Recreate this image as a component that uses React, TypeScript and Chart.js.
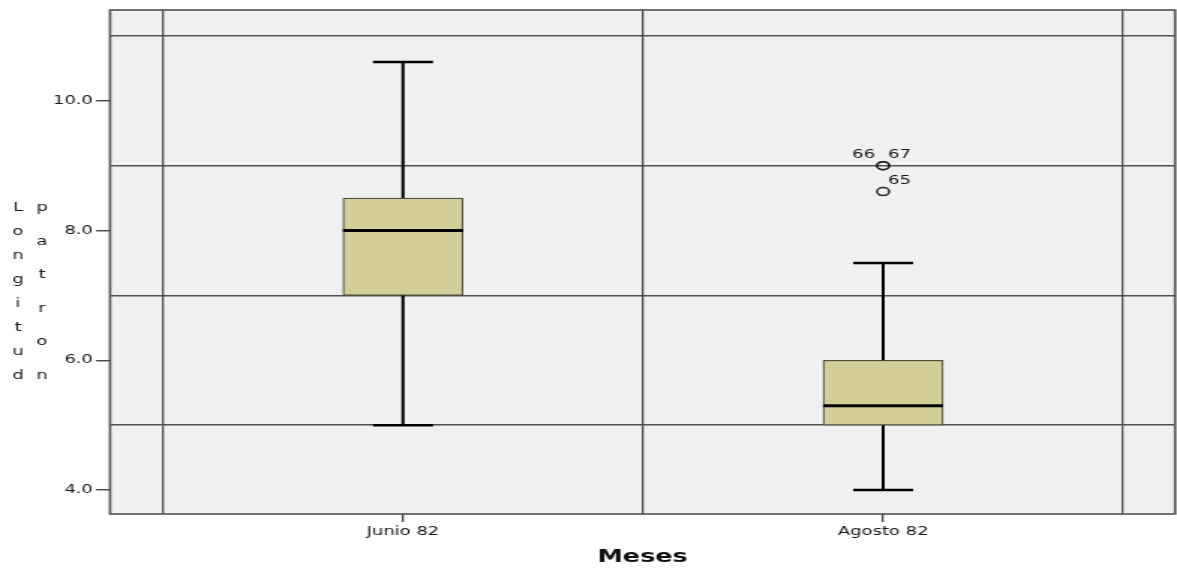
import React, { useEffect, useRef } from 'react';
import { Chart, registerables } from 'chart.js';

Chart.register(...registerables);

// ---- data ----
const categories = ['Junio 82', 'Agosto 82'];
const whiskerLow = [5.0, 4.0];
const q1 = [7.0, 5.0];
const median = [8.0, 5.3];
const q3 = [8.5, 6.0];
const whiskerHigh = [10.6, 7.5];
const outlierCategory = [1, 1, 1];
const outlierValues = [9.0, 9.0, 8.6];
const outlierIds = ['66', '67', '65'];
const yLabelTicks = [4, 6, 8, 10];
const yGridTicks = [5, 7, 9, 11];
const xTitle = 'Meses';
const yTitleWords = ['Longitud', 'patron'];

// ---- layout / style ----
const NATURAL_W = 785;
const H = 571;
const STRETCH = 1177 / NATURAL_W;
const BOX_HALF = 0.125;
const CAP_HALF = 0.0625;
const FONT = '"DejaVu Sans", "Liberation Sans", Arial, sans-serif';
const GRID = '#505050';
const TEXT = '#161616';

const boxData = categories.map((_, i) => ({ x: i + 1, y: [q1[i], q3[i]] }));
const whiskerData = categories.flatMap((_, i) => [
  { x: i + 1, y: whiskerLow[i] },
  { x: i + 1, y: q1[i] },
  { x: i + 1, y: null },
  { x: i + 1, y: q3[i] },
  { x: i + 1, y: whiskerHigh[i] },
  { x: i + 1, y: null },
]);
const capData = categories.flatMap((_, i) => [
  { x: i + 1 - CAP_HALF, y: whiskerLow[i] },
  { x: i + 1 + CAP_HALF, y: whiskerLow[i] },
  { x: i + 1, y: null },
  { x: i + 1 - CAP_HALF, y: whiskerHigh[i] },
  { x: i + 1 + CAP_HALF, y: whiskerHigh[i] },
  { x: i + 1, y: null },
]);
const medianData = categories.flatMap((_, i) => [
  { x: i + 1 - BOX_HALF, y: median[i] },
  { x: i + 1 + BOX_HALF, y: median[i] },
  { x: i + 1, y: null },
]);
const outlierData = outlierValues.map((v, i) => ({ x: outlierCategory[i] + 1, y: v }));

const xTickValues = categories.flatMap((_, i) => [i + 0.5, i + 1]).concat([categories.length + 0.5]);
const yTickValues = [...yLabelTicks, ...yGridTicks].sort((a, b) => a - b);

const spssPlugin = {
  id: 'spssStyle',
  beforeDraw(chart: any) {
    const { ctx, chartArea: a } = chart;
    ctx.save();
    ctx.fillStyle = '#F0F0F0';
    ctx.fillRect(a.left, a.top, a.right - a.left, a.bottom - a.top);
    ctx.restore();
  },
  afterDatasetsDraw(chart: any) {
    const { ctx } = chart;
    const meta = chart.getDatasetMeta(4);
    ctx.save();
    ctx.font = `12px ${FONT}`;
    ctx.fillStyle = TEXT;
    ctx.textAlign = 'center';
    ctx.textBaseline = 'middle';
    outlierIds.forEach((id, i) => {
      const el = meta.data[i];
      if (!el) return;
      const same = outlierValues
        .map((v, j) => j)
        .filter((j) => outlierValues[j] === outlierValues[i] && outlierCategory[j] === outlierCategory[i]);
      const rank = same.indexOf(i);
      const left = same.length > 1 && rank === 0;
      ctx.fillText(id, el.x + (left ? -13 : 11), el.y - 11);
    });
    ctx.restore();
  },
  afterDraw(chart: any) {
    const { ctx, chartArea: a } = chart;
    ctx.save();
    ctx.strokeStyle = GRID;
    ctx.lineWidth = 1.6;
    ctx.strokeRect(a.left, a.top, a.right - a.left, a.bottom - a.top);
    // stacked y-axis title
    ctx.font = `12px ${FONT}`;
    ctx.fillStyle = TEXT;
    ctx.textAlign = 'center';
    ctx.textBaseline = 'alphabetic';
    const colX = [12, 28];
    const top = 211;
    const bottom = 379;
    yTitleWords.forEach((w, c) => {
      const letters = w.split('');
      const step = (bottom - top) / (letters.length - 1);
      letters.forEach((ch, k) => ctx.fillText(ch, colX[c], top + k * step));
    });
    ctx.restore();
  },
};

export default function App() {
  const ref = useRef<HTMLCanvasElement>(null);
  useEffect(() => {
    const chart = new Chart(ref.current as HTMLCanvasElement, {
      type: 'bar',
      data: {
        datasets: [
          {
            type: 'bar',
            data: boxData as any,
            backgroundColor: '#D3CE98',
            borderColor: '#4f4e3c',
            borderWidth: 1.2,
            borderSkipped: false,
            barThickness: 80,
            order: 4,
          } as any,
          {
            type: 'line',
            data: whiskerData as any,
            borderColor: '#000',
            borderWidth: 2,
            pointRadius: 0,
            spanGaps: false,
            order: 3,
          },
          {
            type: 'line',
            data: capData as any,
            borderColor: '#000',
            borderWidth: 2.5,
            pointRadius: 0,
            spanGaps: false,
            order: 2,
          },
          {
            type: 'line',
            data: medianData as any,
            borderColor: '#000',
            borderWidth: 3,
            pointRadius: 0,
            spanGaps: false,
            order: 1,
          },
          {
            type: 'scatter',
            data: outlierData as any,
            pointStyle: 'circle',
            pointRadius: 4,
            borderColor: '#222',
            borderWidth: 1.5,
            backgroundColor: 'rgba(0,0,0,0)',
            order: 0,
          },
        ],
      },
      options: {
        animation: false,
        responsive: true,
        maintainAspectRatio: false,
        events: [],
        layout: { autoPadding: false, padding: { left: 0, right: 1.3, top: 10, bottom: 0 } },
        plugins: {
          legend: { display: false },
          tooltip: { enabled: false },
        },
        scales: {
          x: {
            type: 'linear',
            offset: false,
            min: 0.39,
            max: 2.608,
            afterBuildTicks: (s: any) => {
              s.ticks = xTickValues.map((v) => ({ value: v }));
            },
            afterFit: (s: any) => {
              s.height = 57;
            },
            border: { display: false },
            grid: {
              offset: false,
              color: (c: any) => (Number.isInteger(c.tick?.value) ? 'rgba(0,0,0,0)' : GRID),
              lineWidth: 1.3,
              drawTicks: true,
              tickLength: 8,
              tickColor: (c: any) => (Number.isInteger(c.tick?.value) ? '#333' : 'rgba(0,0,0,0)'),
              tickWidth: 1.2,
            },
            ticks: {
              autoSkip: false,
              maxRotation: 0,
              padding: 3,
              color: TEXT,
              font: { family: FONT, size: 12 },
              callback: (v: any) => (Number.isInteger(v) ? categories[Math.round(v) - 1] : ''),
            },
            title: {
              display: true,
              text: xTitle,
              color: '#111',
              font: { family: FONT, size: 17, weight: 'bold' },
              padding: { top: 0, bottom: 3 },
            },
          },
          y: {
            type: 'linear',
            min: 3.63,
            max: 11.4,
            afterBuildTicks: (s: any) => {
              s.ticks = yTickValues.map((v) => ({ value: v }));
            },
            afterFit: (s: any) => {
              s.width = 73.4;
            },
            border: { display: false },
            grid: {
              color: (c: any) => (yGridTicks.includes(c.tick?.value) ? GRID : 'rgba(0,0,0,0)'),
              lineWidth: 1.5,
              drawTicks: true,
              tickLength: 9.4,
              tickColor: (c: any) => (yLabelTicks.includes(c.tick?.value) ? '#333' : 'rgba(0,0,0,0)'),
              tickWidth: 1.3,
            },
            ticks: {
              autoSkip: false,
              padding: 2,
              color: TEXT,
              font: { family: FONT, size: 12 },
              callback: (v: any) => (yLabelTicks.includes(v) ? Number(v).toFixed(1) : ''),
            },
          },
        },
      },
      plugins: [spssPlugin],
    } as any);
    return () => chart.destroy();
  }, []);

  return (
    <div
      style={{
        position: 'fixed',
        left: 0,
        top: 0,
        width: 1177,
        height: H,
        background: '#ffffff',
        overflow: 'hidden',
      }}
    >
      <div
        style={{
          position: 'relative',
          width: NATURAL_W,
          height: H,
          transform: `scaleX(${STRETCH})`,
          transformOrigin: '0 0',
        }}
      >
        <canvas ref={ref} />
      </div>
    </div>
  );
}
